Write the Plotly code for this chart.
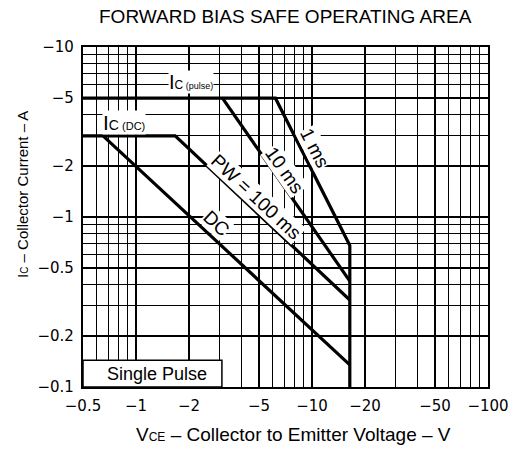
import numpy as np
import plotly.graph_objects as go

# ---- data (magnitudes; axis labels carry the minus sign) ----
# Ic(pulse) limit with 1 ms pulse line and Vce limit
v_1ms = [0.5, 6.2, 16.4, 16.4]
i_1ms = [5.0, 5.0, 0.68, 0.1]
# 10 ms pulse line
v_10ms = [3.1, 16.4]
i_10ms = [5.0, 0.42]
# Ic(DC) limit with PW = 100 ms line
v_100ms = [0.5, 1.67, 16.4]
i_100ms = [3.0, 3.0, 0.325]
# DC line
v_dc = [0.65, 16.4]
i_dc = [3.0, 0.135]

x_tickvals = [0.5, 1, 2, 5, 10, 20, 50, 100]
x_ticktext = ["\u22120.5", "\u22121", "\u22122", "\u22125", "\u221210", "\u221220", "\u221250", "\u2212100"]
y_tickvals = [0.1, 0.2, 0.5, 1, 2, 5, 10]
y_ticktext = ["\u22120.1", "\u22120.2", "\u22120.5", "\u22121", "\u22122", "\u22125", "\u221210"]

x_minor = [m * d for d in (0.1, 1, 10) for m in range(1, 10) if 0.5 <= m * d <= 100 and m * d not in x_tickvals]
y_minor = [m * d for d in (0.1, 1) for m in range(1, 10) if m * d not in y_tickvals]

fig = go.Figure()
line = dict(color="black", width=3.2)
for xs, ys in [(v_1ms, i_1ms), (v_10ms, i_10ms), (v_100ms, i_100ms), (v_dc, i_dc)]:
    fig.add_trace(go.Scatter(x=xs, y=ys, mode="lines", line=line, showlegend=False, hoverinfo="skip"))

axis_common = dict(
    type="log", showgrid=True, gridcolor="black", gridwidth=1.7,
    showline=True, linecolor="black", linewidth=2.2, mirror=True,
    ticks="", zeroline=False,
    tickfont=dict(family="DejaVu Sans", size=15, color="black"),
)
fig.update_xaxes(**axis_common, range=[np.log10(0.5), np.log10(100)],
                 tickvals=x_tickvals, ticktext=x_ticktext, ticklabelstandoff=4,
                 minor=dict(tickvals=x_minor, showgrid=True, gridcolor="black", gridwidth=1.4, ticks=""))
fig.update_yaxes(**axis_common, range=[-1, 1],
                 tickvals=y_tickvals, ticktext=y_ticktext, ticklabelstandoff=4,
                 minor=dict(tickvals=y_minor, showgrid=True, gridcolor="black", gridwidth=1.4, ticks=""))

font_l = "Liberation Sans"
ann = []
def pann(text, x, y, size, ang=0):
    ann.append(dict(text=text, xref="paper", yref="paper", x=x, y=y, xanchor="center", yanchor="middle",
                    showarrow=False, textangle=ang, font=dict(family=font_l, size=size, color="black")))

# Title and axis titles
pann("FORWARD BIAS SAFE OPERATING AREA", 0.499, 1.091, 19)
pann("V<span style='font-size:12px'>CE</span> \u2013 Collector to Emitter Voltage \u2013 V", 0.519, -0.141, 19)
pann("I<span style='font-size:10px'>C</span> \u2013 Collector Current \u2013 A", -0.148, 0.565, 15, -90)

# Curve labels
def lbl(text, vx, iy, ang, size=19, bg="white"):
    ann.append(dict(text=text, x=np.log10(vx), y=np.log10(iy), xref="x", yref="y", showarrow=False,
                    xanchor="center", yanchor="middle",
                    textangle=ang, bgcolor=bg, borderpad=0,
                    font=dict(family=font_l, size=size, color="black")))

lbl("1 ms", 10.3, 2.55, 63)
lbl("10 ms", 7.03, 1.89, 55)
lbl("PW = 100 ms", 4.87, 1.31, 43)
lbl("DC", 2.88, 0.92, 43)
lbl("I<span style='font-size:12px'>C</span><span style='font-size:9px'> (pulse)</span>", 2.05, 6.2, 0, size=20)
lbl("I<span style='font-size:14px'>C</span><span style='font-size:11px'> (DC)</span>", 0.86, 3.6, 0, size=21)

# Single Pulse box
fig.add_shape(type="rect", xref="paper", yref="paper", x0=0, x1=0.343, y0=0, y1=0.079,
              fillcolor="white", line=dict(color="black", width=1.5), layer="above")
pann("Single Pulse", 0.182, 0.038, 18)

fig.update_layout(
    width=522, height=450, plot_bgcolor="white", paper_bgcolor="white",
    margin=dict(l=83, r=34, t=47, b=63), annotations=ann,
)
# remove the default 8px page margin so the figure fills the window exactly
fig.write_html("out.html", config={"displayModeBar": False},
               post_script="document.body.style.margin='0';")
